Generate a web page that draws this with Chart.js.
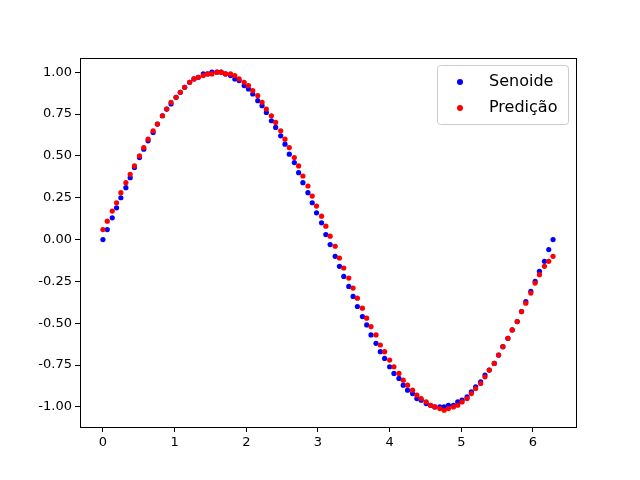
<!DOCTYPE html>
<html>
<head>
<meta charset="utf-8">
<script src="https://cdn.jsdelivr.net/npm/chart.js@4/dist/chart.umd.min.js"></script>
<style>body{margin:0;background:#fff}</style>
</head>
<body>
<canvas id="myChart" width="640" height="480"></canvas>
<script>
var xs = [0,0.06,0.13,0.19,0.25,0.32,0.38,0.44,0.51,0.57,0.63,0.70,0.76,0.83,0.89,0.95,1.02,1.08,1.14,1.21,1.27,1.33,1.40,1.46,1.52,1.59,1.65,1.71,1.78,1.84,1.90,1.97,2.03,2.09,2.16,2.22,2.28,2.35,2.41,2.48,2.54,2.60,2.67,2.73,2.79,2.86,2.92,2.98,3.05,3.11,3.17,3.24,3.30,3.36,3.43,3.49,3.55,3.62,3.68,3.74,3.81,3.87,3.93,4.00,4.06,4.13,4.19,4.25,4.32,4.38,4.44,4.51,4.57,4.63,4.70,4.76,4.82,4.89,4.95,5.01,5.08,5.14,5.20,5.27,5.33,5.39,5.46,5.52,5.58,5.65,5.71,5.78,5.84,5.90,5.97,6.03,6.09,6.16,6.22,6.28];
var senoide = [0.00,0.06,0.13,0.19,0.25,0.31,0.37,0.43,0.49,0.54,0.59,0.64,0.69,0.74,0.78,0.81,0.85,0.88,0.91,0.94,0.96,0.97,0.99,0.99,1.00,1.00,1.00,0.99,0.98,0.96,0.95,0.92,0.90,0.87,0.83,0.80,0.76,0.71,0.67,0.62,0.57,0.51,0.46,0.40,0.34,0.28,0.22,0.16,0.10,0.03,-0.03,-0.10,-0.16,-0.22,-0.28,-0.34,-0.40,-0.46,-0.51,-0.57,-0.62,-0.67,-0.71,-0.76,-0.80,-0.83,-0.87,-0.90,-0.92,-0.95,-0.96,-0.98,-0.99,-1.00,-1.00,-1.00,-0.99,-0.99,-0.97,-0.96,-0.94,-0.91,-0.88,-0.85,-0.81,-0.78,-0.74,-0.69,-0.64,-0.59,-0.54,-0.49,-0.43,-0.37,-0.31,-0.25,-0.19,-0.13,-0.06,0.00];
var predicao = [0.06,0.11,0.17,0.22,0.28,0.34,0.39,0.44,0.50,0.55,0.60,0.65,0.69,0.74,0.78,0.82,0.85,0.88,0.91,0.94,0.96,0.97,0.98,0.99,0.99,1.00,1.00,0.99,0.99,0.98,0.96,0.94,0.92,0.89,0.86,0.82,0.78,0.74,0.70,0.65,0.60,0.55,0.49,0.44,0.38,0.32,0.26,0.20,0.14,0.08,0.02,-0.04,-0.11,-0.17,-0.23,-0.29,-0.35,-0.41,-0.47,-0.52,-0.57,-0.63,-0.67,-0.72,-0.76,-0.80,-0.84,-0.87,-0.90,-0.93,-0.95,-0.97,-0.99,-1.00,-1.01,-1.02,-1.01,-1.00,-0.99,-0.97,-0.95,-0.92,-0.89,-0.86,-0.82,-0.78,-0.74,-0.69,-0.64,-0.59,-0.54,-0.49,-0.43,-0.38,-0.32,-0.26,-0.21,-0.16,-0.13,-0.10];
var labels = ['Senoide', 'Predição'];
var colors = ['#0000ff', '#ff0000'];

function pts(ys){
    return ys.map(function(y, i){ return {x: xs[i], y: y}; });
}

// frame + matplotlib-like legend box
var frame = {
    id: 'frame',
    afterDraw: function(chart){
        var c = chart.ctx, a = chart.chartArea;
        c.save();
        c.strokeStyle = '#000';
        c.lineWidth = 1;
        c.strokeRect(a.left + 0.5, a.top + 0.5, a.right - a.left, a.bottom - a.top);
        var bx = 437, by = 65, bw = 131, bh = 59;
        c.fillStyle = 'rgba(255,255,255,0.8)';
        c.strokeStyle = '#ccc';
        c.beginPath();
        c.roundRect(bx + 0.5, by + 0.5, bw, bh, 3);
        c.fill();
        c.stroke();
        c.font = '16px "DejaVu Sans"';
        c.textBaseline = 'middle';
        chart.data.datasets.forEach(function(ds, i){
            var y = by + 17 + i * 26;
            c.fillStyle = ds.backgroundColor;
            c.beginPath();
            c.arc(bx + 23, y, 3, 0, Math.PI * 2);
            c.fill();
            c.fillStyle = '#000';
            c.fillText(ds.label, bx + 52, y);
        });
        c.restore();
    }
};

var ctx = document.getElementById('myChart').getContext('2d');
var myChart = new Chart(ctx, {
    type: 'scatter',
    data: {
        datasets: [0, 1].map(function(i){
            return {
                label: labels[i],
                data: pts(i === 0 ? senoide : predicao),
                backgroundColor: colors[i],
                borderColor: colors[i],
                pointRadius: 2.6,
                borderWidth: 0,
                order: i === 0 ? 1 : 0
            };
        })
    },
    options: {
        responsive: false,
        animation: false,
        layout: {padding: {left: 0, top: 58, right: 64, bottom: 0}},
        plugins: {legend: {display: false}, tooltip: {enabled: false}},
        scales: {
            x: {
                min: -0.32, max: 6.6,
                afterFit: function(s){ s.height = 53; },
                afterBuildTicks: function(s){ s.ticks = [0,1,2,3,4,5,6].map(function(v){ return {value: v}; }); },
                grid: {drawOnChartArea: false, tickLength: 5, color: '#000'},
                border: {color: '#000'},
                ticks: {color: '#000', font: {family: 'DejaVu Sans', size: 13}, maxRotation: 0}
            },
            y: {
                min: -1.12, max: 1.085,
                afterFit: function(s){ s.width = 80; },
                afterBuildTicks: function(s){ s.ticks = [-1,-0.75,-0.5,-0.25,0,0.25,0.5,0.75,1].map(function(v){ return {value: v}; }); },
                grid: {drawOnChartArea: false, tickLength: 5, color: '#000'},
                border: {color: '#000'},
                ticks: {color: '#000', font: {family: 'DejaVu Sans', size: 13},
                    callback: function(v){ return v.toFixed(2); }}
            }
        }
    },
    plugins: [frame]
});
</script>
</body>
</html>
